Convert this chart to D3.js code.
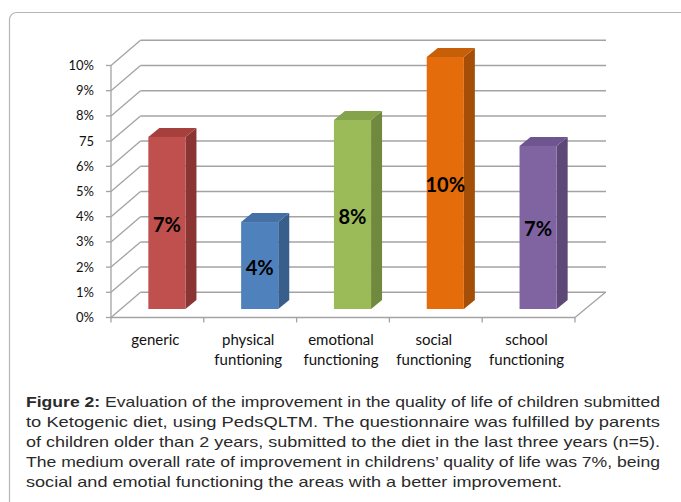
<!DOCTYPE html>
<html><head><meta charset="utf-8">
<script src="https://cdn.jsdelivr.net/npm/d3@7"></script>
<style>html,body{margin:0;padding:0;background:#fff;}svg{display:block;}</style>
</head><body>
<svg id="c" width="681" height="502"></svg>
<script>
const categories = ["generic", "physical funtioning", "emotional functioning", "social functioning", "school functioning"];
const values = [6.83, 3.45, 7.5, 10.0, 6.47];
const valueLabels = ["7%", "4%", "8%", "10%", "7%"];
const tickValues = [0,1,2,3,4,5,6,7,8,9,10];
const tickLabels = ["0%","1%","2%","3%","4%","5%","6%","75","8%","9%","10%"];
const frontColors = ["#C0504D","#4F81BD","#9BBB59","#E46C0A","#8064A2"];
const sideColors  = ["#8A3533","#385E8C","#71893F","#A44E07","#5D4878"];
const topColors   = ["#A6403D","#4470A5","#84A34A","#C75E08","#6D5590"];
const captionLines = [
  "Evaluation of the improvement in the quality of life of children submitted",
  "to Ketogenic diet, using PedsQLTM. The questionnaire was fulfilled by parents",
  "of children older than 2 years, submitted to the diet in the last three years (n=5).",
  "The medium overall rate of improvement in childrens\u2019 quality of life was 7%, being",
  "social and emotial functioning the areas with a better improvement."
];

const svg = d3.select("#c");
// outer frame
svg.append("rect").attr("x",9.5).attr("y",12.5).attr("width",700).attr("height",520)
  .attr("rx",7).attr("fill","none").attr("stroke","#b5b5b5").attr("stroke-width",1.2);

const y = d3.scaleLinear().domain([0,10]).range([317.5,65.5]);
const x = d3.scaleBand().domain(categories).range([111,575]).padding(0);
const DX = 29.5, DY = -25.2;     // floor depth
const BX = 9.5, BY = -8.5;       // bar front offset
const BDX = 11, BDY = -9;        // bar depth
const grid = "#a3a3a3";
const backRight = 606;

const g = svg.append("g");
g.selectAll("line.grid").data(tickValues).join("line")
  .attr("x1", 111+DX).attr("x2", backRight)
  .attr("y1", d=>y(d)+DY).attr("y2", d=>y(d)+DY)
  .attr("stroke", grid).attr("stroke-width",1.5);
g.selectAll("line.diag").data(tickValues).join("line")
  .attr("x1",111).attr("x2",111+DX)
  .attr("y1",d=>y(d)).attr("y2",d=>y(d)+DY)
  .attr("stroke",grid).attr("stroke-width",1.3);
g.append("line").attr("x1",111).attr("x2",111).attr("y1",y(0)).attr("y2",y(10))
  .attr("stroke",grid).attr("stroke-width",1.3);
g.selectAll("line.tk").data(tickValues).join("line")
  .attr("x1",106).attr("x2",111).attr("y1",d=>y(d)).attr("y2",d=>y(d))
  .attr("stroke",grid).attr("stroke-width",1.3);
g.append("line").attr("x1",111).attr("x2",575).attr("y1",y(0)).attr("y2",y(0))
  .attr("stroke",grid).attr("stroke-width",1.3);
g.append("line").attr("x1",575).attr("x2",575+DX+1).attr("y1",y(0)).attr("y2",y(0)+DY)
  .attr("stroke",grid).attr("stroke-width",1.3);
const edges = categories.map(c=>x(c)).concat([575]);
g.selectAll("line.ct").data(edges).join("line")
  .attr("x1",d=>d).attr("x2",d=>d).attr("y1",y(0)).attr("y2",y(0)+5)
  .attr("stroke",grid).attr("stroke-width",1.3);

g.selectAll("text.yl").data(tickValues).join("text")
  .attr("x",94).attr("y",d=>y(d)).attr("dy","0.35em").attr("text-anchor","end")
  .attr("font-family","Lato, 'Open Sans', sans-serif").attr("font-size",13).attr("fill","#111")
  .text((d,i)=>tickLabels[i]);

const bw = x.bandwidth()*0.4;
categories.forEach((c,i)=>{
  const x0 = x(c) + x.bandwidth()/2 - bw/2 + BX;
  const x1 = x0 + bw;
  const yb = y(0) + BY;
  const yt = y(values[i]) + BY;
  g.append("path").attr("d",`M${x1},${yt}L${x1+BDX},${yt+BDY}L${x1+BDX},${yb+BDY}L${x1},${yb}Z`)
    .attr("fill",sideColors[i]);
  g.append("path").attr("d",`M${x0},${yt}L${x0+BDX},${yt+BDY}L${x1+BDX},${yt+BDY}L${x1},${yt}Z`)
    .attr("fill",topColors[i]);
  g.append("rect").attr("x",x0).attr("y",yt).attr("width",bw).attr("height",yb-yt)
    .attr("fill",frontColors[i]);
  g.append("text").attr("x",(x0+x1)/2).attr("y",(yt+yb)/2+2).attr("dy","0.35em")
    .attr("text-anchor","middle").attr("font-family","Lato, 'Open Sans', sans-serif")
    .attr("font-weight","bold").attr("font-size",20).attr("fill","#000")
    .text(valueLabels[i]);
});

categories.forEach(c=>{
  const words = c.split(" ");
  const t = g.append("text").attr("text-anchor","middle")
    .attr("font-family","Lato, 'Open Sans', sans-serif").attr("font-size",15).attr("fill","#111");
  words.forEach((w,j)=>{
    t.append("tspan").attr("x", x(c)+x.bandwidth()/2 - 2).attr("y", 345 + j*20).text(w);
  });
});

const cap = svg.append("g").attr("font-family","'Liberation Sans Narrow','Arial Narrow','Liberation Sans',Arial,sans-serif")
  .attr("font-size",14.5).attr("fill","#2a2a2a");
captionLines.forEach((line,i)=>{
  const t = cap.append("text").attr("x",26).attr("y",407+i*20);
  if(i===0){
    t.append("tspan").attr("font-weight","bold").text("Figure 2: ");
  }
  t.append("tspan").text(line);
  const w = i===4 ? 536 : 634;
  t.attr("textLength", w).attr("lengthAdjust","spacingAndGlyphs");
});
</script>
</body></html>
